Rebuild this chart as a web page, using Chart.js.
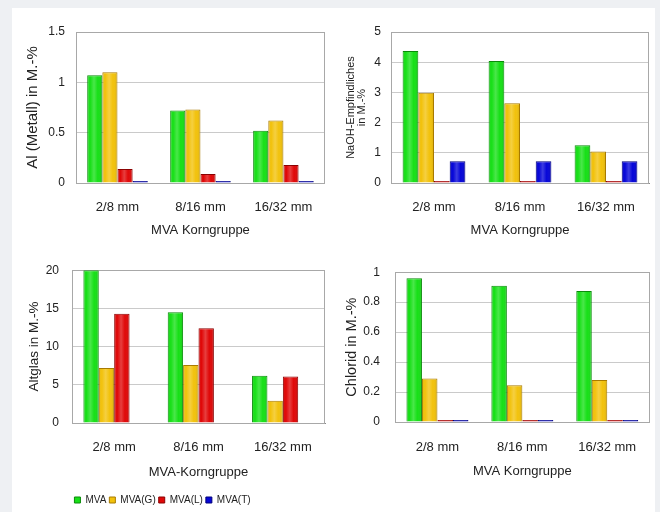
<!DOCTYPE html>
<html><head><meta charset="utf-8">
<script src="https://cdn.jsdelivr.net/npm/chart.js@4.4.1/dist/chart.umd.min.js"></script>
<style>
html,body{margin:0;padding:0;}
body{width:660px;height:512px;background:#eef0f3;position:relative;overflow:hidden;}
#panel{position:absolute;left:12px;top:8px;width:643px;height:504px;background:#fff;}
canvas{position:absolute;}
</style></head><body>
<div id="panel"></div>
<canvas id="c1" width="318" height="242" style="left:12px;top:8px"></canvas>
<canvas id="c2" width="325" height="242" style="left:330px;top:8px"></canvas>
<canvas id="c3" width="330" height="267" style="left:0px;top:250px"></canvas>
<canvas id="c4" width="325" height="262" style="left:330px;top:250px"></canvas>
<script>
// ---- data ----
const categories = ['2/8 mm', '8/16 mm', '16/32 mm'];
const seriesNames = ['MVA', 'MVA(G)', 'MVA(L)', 'MVA(T)'];

// Al (Metall)
const alMVA = [1.07, 0.72, 0.52];
const alG   = [1.10, 0.73, 0.62];
const alL   = [0.14, 0.09, 0.18];
const alT   = [0.012, 0.012, 0.012];
const alTicks = [0, 0.5, 1, 1.5];

// NaOH-Empfindliches
const naMVA = [4.37, 4.04, 1.25];
const naG   = [2.99, 2.64, 1.04];
const naL   = [0.04, 0.04, 0.04];
const naT   = [0.72, 0.72, 0.72];
const naTicks = [0, 1, 2, 3, 4, 5];

// Altglas
const agMVA = [20.0, 14.5, 6.2];
const agG   = [7.2, 7.6, 2.9];
const agL   = [14.3, 12.4, 6.1];
const agT   = [0, 0, 0];
const agTicks = [0, 5, 10, 15, 20];

// Chlorid
const clMVA = [0.96, 0.91, 0.875];
const clG   = [0.29, 0.245, 0.28];
const clL   = [0.01, 0.01, 0.01];
const clT   = [0.006, 0.006, 0.006];
const clTicks = [0, 0.2, 0.4, 0.6, 0.8, 1];

// ---- styles ----
const fills   = ['#17e017', '#f2c20c', '#e00808', '#0606d8'];
const borders = ['#0a8a0a', '#a87a00', '#8a0000', '#00007a'];
Chart.defaults.font.family = '"Liberation Sans", Arial, sans-serif';
Chart.defaults.color = '#222';

const framePlugin = {
  id: 'frame',
  beforeDatasetsDraw(chart) {
    const a = chart.chartArea, ctx = chart.ctx;
    ctx.save();
    ctx.strokeStyle = '#a8a8a8';
    ctx.lineWidth = 1;
    ctx.strokeRect(Math.round(a.left) + 0.5, Math.round(a.top) + 0.5,
                   Math.round(a.right - a.left) - 1, Math.round(a.bottom - a.top));
    ctx.restore();
  }
};
const shadePlugin = {
  id: 'shade',
  afterDatasetsDraw(chart) {
    const ctx = chart.ctx;
    chart.data.datasets.forEach((ds, i) => {
      const meta = chart.getDatasetMeta(i);
      meta.data.forEach(el => {
        const h = Math.abs(el.base - el.y);
        if (!el.width || h < 3) return;
        const x0 = el.x - el.width / 2;
        const top = Math.min(el.y, el.base);
        const g = ctx.createLinearGradient(x0, 0, x0 + el.width, 0);
        g.addColorStop(0, 'rgba(0,0,0,0.10)');
        g.addColorStop(0.2, 'rgba(255,255,255,0)');
        g.addColorStop(0.45, 'rgba(255,255,255,0.22)');
        g.addColorStop(0.7, 'rgba(255,255,255,0)');
        g.addColorStop(1, 'rgba(0,0,0,0.12)');
        ctx.save();
        ctx.fillStyle = g;
        ctx.fillRect(x0 + 1, top + 1, el.width - 2, h - 1);
        ctx.restore();
      });
    });
  }
};

function makeChart(id, series, ticks, yTitle, xTitle, lay) {
  const datasets = series.map((vals, i) => ({
    label: seriesNames[i],
    data: vals,
    backgroundColor: fills[i],
    borderColor: borders[i],
    borderWidth: 1,
    minBarLength: lay.minBar || 0,
    categoryPercentage: 0.73,
    barPercentage: 1.0
  }));
  return new Chart(document.getElementById(id), {
    type: 'bar',
    data: { labels: categories, datasets },
    plugins: [framePlugin, shadePlugin],
    options: {
      responsive: false,
      animation: false,
      layout: { padding: lay.padding },
      plugins: {
        tooltip: { enabled: false },
        legend: lay.legend ? {
          display: true, position: 'bottom', align: 'center',
          labels: { boxWidth: 6, boxHeight: 6, padding: 3, font: { size: 10 }, color: '#222' }
        } : { display: false }
      },
      scales: {
        x: {
          grid: { display: false, drawTicks: false },
          border: { display: true, color: '#8a8a8a' },
          ticks: { padding: lay.xPad, font: { size: 13 }, maxRotation: 0, autoSkip: false },
          title: { display: true, text: xTitle, font: { size: 13 }, padding: { top: 0, bottom: lay.xTitlePad } },
          afterFit: s => { s.height = lay.xH; }
        },
        y: {
          min: ticks[0], max: ticks[ticks.length - 1],
          afterBuildTicks: s => { s.ticks = ticks.map(v => ({ value: v })); },
          grid: { color: '#cacaca', drawTicks: false },
          border: { display: true, color: '#a8a8a8' },
          ticks: { padding: lay.yPad, font: { size: 12 }, callback: v => String(v) },
          title: { display: true, text: yTitle,
                   font: { size: lay.yTitleSize, lineHeight: lay.yTitleLH || 1.2 },
                   padding: { top: lay.yTitlePad, bottom: 0 } },
          afterFit: s => { s.width = lay.yW; }
        }
      }
    }
  });
}

makeChart('c1', [alMVA, alG, alL, alT], alTicks, 'Al (Metall) in M.-%', 'MVA Korngruppe',
  { padding: { top: 24, right: 4, left: 0, bottom: 0 }, xH: 67, xPad: 17, xTitlePad: 12,
    yW: 64, yPad: 11, yTitleSize: 15, yTitlePad: 12, minBar: 2 });
makeChart('c2', [naMVA, naG, naL, naT], naTicks, ['NaOH-Empfindliches', 'in M.-%'], 'MVA Korngruppe',
  { padding: { top: 24, right: 6, left: 0, bottom: 0 }, xH: 67, xPad: 17, xTitlePad: 12,
    yW: 61, yPad: 10, yTitleSize: 11, yTitleLH: 1.0, yTitlePad: 15, minBar: 2 });
makeChart('c3', [agMVA, agG, agL, agT], agTicks, 'Altglas in M.-%', 'MVA-Korngruppe',
  { padding: { top: 19, right: 5, left: 0, bottom: 2 }, xH: 69, xPad: 17, xTitlePad: 12,
    yW: 72, yPad: 13, yTitleSize: 13.5, yTitlePad: 26, legend: true });
makeChart('c4', [clMVA, clG, clL, clT], clTicks, 'Chlorid in M.-%', 'MVA Korngruppe',
  { padding: { top: 19, right: 5, left: 0, bottom: 0 }, xH: 90, xPad: 18, xTitlePad: 33,
    yW: 65, yPad: 15, yTitleSize: 14.5, yTitlePad: 13, minBar: 2 });
</script>
</body></html>
